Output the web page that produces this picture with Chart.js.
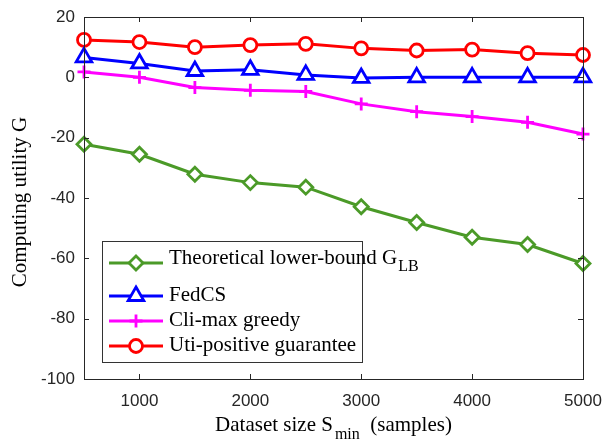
<!DOCTYPE html>
<html>
<head>
<meta charset="utf-8">
<script src="https://cdn.jsdelivr.net/npm/chart.js@4.4.1/dist/chart.umd.min.js"></script>
<style>
  html, body { margin: 0; padding: 0; background: #fff; }
  #wrap { width: 605px; height: 443px; }
</style>
</head>
<body>
<div id="wrap"><canvas id="utility" width="605" height="443"></canvas></div>
<script>
const datasetSizes = [500, 1000, 1500, 2000, 2500, 3000, 3500, 4000, 4500, 5000];
const lowerBound = [-22.2, -25.5, -32.1, -34.9, -36.4, -42.9, -48.1, -53.0, -55.4, -61.7];
const fedCS = [6.6, 4.6, 2.1, 2.5, 0.8, -0.2, 0, 0, 0, 0];
const cliMaxGreedy = [1.8, 0, -3.4, -4.3, -4.7, -8.8, -11.4, -13.0, -14.9, -18.8];
const utiPositive = [12.4, 11.7, 10.0, 10.7, 11.1, 9.6, 8.9, 9.2, 8.0, 7.4];
const xTicks = [1000, 2000, 3000, 4000, 5000];
const yTicks = [-100, -80, -60, -40, -20, 0, 20];

const seriesNames = [
  ["Theoretical lower-bound G", "LB"],
  ["FedCS", ""],
  ["Cli-max greedy", ""],
  ["Uti-positive guarantee", ""],
];

const toPoints = (ys) => ys.map((y, i) => ({ x: datasetSizes[i], y: y }));

const serif = "'Liberation Serif', 'Times New Roman', serif";
const sans = "'Liberation Sans', Arial, sans-serif";
const axisColor = "#262626";
const bigSerif = "21px " + serif;
const subSerif = "16px " + serif;

function drawMarker(ctx, ds, x, y) {
  if (Chart.helpers && Chart.helpers.drawPoint) {
    Chart.helpers.drawPoint(ctx, {
      pointStyle: ds.pointStyle, radius: ds.pointRadius, rotation: 0,
      borderWidth: ds.pointBorderWidth,
    }, x, y);
  }
}

// MATLAB-like frame, inward ticks, legend box and axis titles
const matlabLook = {
  id: "matlabLook",
  afterDraw(chart) {
    const ctx = chart.ctx;
    const a = chart.chartArea;
    const xs = chart.scales.x;
    const ys = chart.scales.y;
    ctx.save();
    ctx.strokeStyle = axisColor;
    ctx.lineWidth = 1;
    ctx.strokeRect(Math.round(a.left) + 0.5, Math.round(a.top) + 0.5,
      Math.round(a.right - a.left), Math.round(a.bottom - a.top));
    ctx.beginPath();
    xTicks.forEach((v) => {
      const px = Math.round(xs.getPixelForValue(v)) + 0.5;
      ctx.moveTo(px, a.bottom); ctx.lineTo(px, a.bottom - 5);
      ctx.moveTo(px, a.top); ctx.lineTo(px, a.top + 5);
    });
    yTicks.forEach((v) => {
      const py = Math.round(ys.getPixelForValue(v)) + 0.5;
      ctx.moveTo(a.left, py); ctx.lineTo(a.left + 5, py);
      ctx.moveTo(a.right, py); ctx.lineTo(a.right - 5, py);
    });
    ctx.stroke();

    // legend
    const lx = 102, ly = 241, lw = 260, lh = 121;
    ctx.fillStyle = "#fff";
    ctx.fillRect(lx, ly, lw, lh);
    ctx.strokeStyle = "#333";
    ctx.lineWidth = 1;
    ctx.strokeRect(lx + 0.5, ly + 0.5, lw, lh);
    const lineY = [263, 296, 321, 346];
    const textY = [258, 295, 320, 345];
    chart.data.datasets.forEach((ds, i) => {
      const y = lineY[i];
      ctx.setLineDash([]);
      ctx.strokeStyle = ds.borderColor;
      ctx.lineWidth = ds.borderWidth;
      ctx.beginPath();
      ctx.moveTo(109, y); ctx.lineTo(163, y);
      ctx.stroke();
      ctx.fillStyle = ds.pointBackgroundColor;
      ctx.strokeStyle = ds.borderColor;
      ctx.lineWidth = ds.pointBorderWidth;
      drawMarker(ctx, ds, 136, y);
      ctx.fillStyle = "#000";
      ctx.font = bigSerif;
      ctx.textBaseline = "middle";
      ctx.textAlign = "left";
      const [main, sub] = seriesNames[i];
      ctx.fillText(main, 169, textY[i]);
      if (sub) {
        const w = ctx.measureText(main).width;
        ctx.font = subSerif;
        ctx.fillText(sub, 169 + w + 1, textY[i] + 9);
      }
    });

    // x title with subscript
    ctx.fillStyle = "#000";
    ctx.textBaseline = "alphabetic";
    ctx.textAlign = "left";
    const p1 = "Dataset size S", p2 = "min", p3 = "  (samples)";
    ctx.font = bigSerif;
    const w1 = ctx.measureText(p1).width;
    const w3 = ctx.measureText(p3).width;
    ctx.font = subSerif;
    const w2 = ctx.measureText(p2).width;
    const total = w1 + w2 + w3 + 2;
    const tx = (a.left + a.right) / 2 - total / 2;
    ctx.font = bigSerif;
    ctx.fillText(p1, tx, 431);
    ctx.font = subSerif;
    ctx.fillText(p2, tx + w1 + 2, 439);
    ctx.font = bigSerif;
    ctx.fillText(p3, tx + w1 + w2 + 2, 431);

    // y title
    ctx.translate(26, (a.top + a.bottom) / 2 + 4);
    ctx.rotate(-Math.PI / 2);
    ctx.textAlign = "center";
    ctx.font = bigSerif;
    ctx.fillText("Computing utility G", 0, 0);
    ctx.restore();
  },
};

const makeSet = (label, values, color, style, radius) => ({
  label: label,
  data: toPoints(values),
  borderColor: color,
  backgroundColor: color,
  borderWidth: 3,
  pointStyle: style,
  pointRadius: radius,
  pointHoverRadius: radius,
  pointBorderWidth: 2.8,
  pointBackgroundColor: "#fff",
  pointBorderColor: color,
  tension: 0,
  clip: false,
});

new Chart(document.getElementById("utility"), {
  type: "line",
  data: {
    datasets: [
      makeSet("Theoretical lower-bound G_LB", lowerBound, "#4b9a28", "rectRot", 7),
      makeSet("FedCS", fedCS, "#0000ff", "triangle", 9),
      makeSet("Cli-max greedy", cliMaxGreedy, "#ff00ff", "cross", 6.5),
      makeSet("Uti-positive guarantee", utiPositive, "#ff0000", "circle", 6.5),
    ],
  },
  options: {
    responsive: false,
    animation: false,
    layout: { padding: { left: 0, right: 22, top: 17, bottom: 0 } },
    plugins: { legend: { display: false }, tooltip: { enabled: false } },
    scales: {
      x: {
        type: "linear",
        min: 500,
        max: 5000,
        afterBuildTicks: (scale) => { scale.ticks = xTicks.map((v) => ({ value: v })); },
        afterFit: (scale) => {
          scale.height = 64;
          scale.paddingLeft = 0;
          scale.paddingRight = 0;
        },
        grid: { display: false, drawTicks: false },
        border: { display: false },
        ticks: {
          color: axisColor, font: { family: sans, size: 17 }, padding: 12, maxRotation: 0,
          callback: (v) => String(v),
        },
      },
      y: {
        min: -100,
        max: 20,
        afterBuildTicks: (scale) => { scale.ticks = yTicks.map((v) => ({ value: v })); },
        afterFit: (scale) => {
          scale.width = 84;
          scale.paddingTop = 0;
          scale.paddingBottom = 0;
        },
        grid: { display: false, drawTicks: false },
        border: { display: false },
        ticks: { color: axisColor, font: { family: sans, size: 17 }, padding: 9, callback: (v) => String(v) },
      },
    },
  },
  plugins: [matlabLook],
});
</script>
</body>
</html>
